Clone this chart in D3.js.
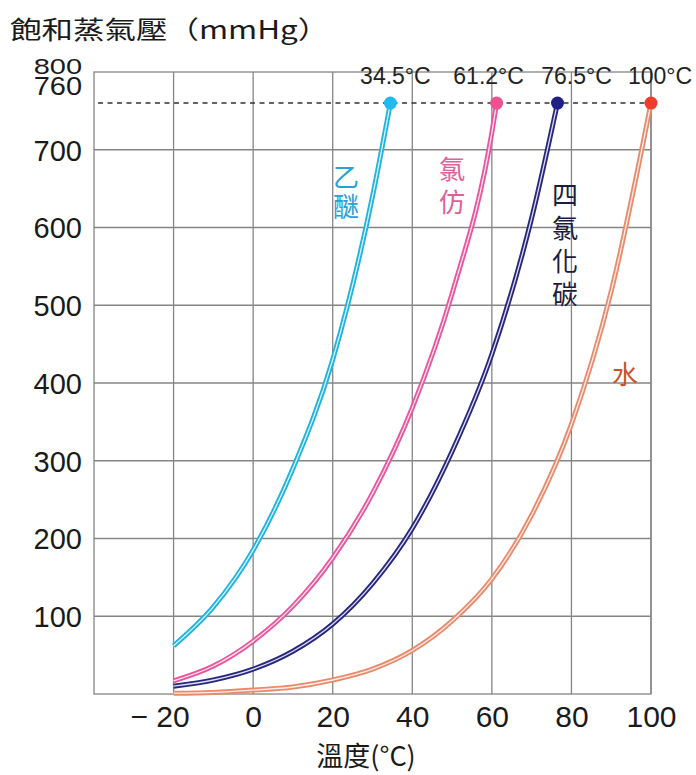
<!DOCTYPE html>
<html>
<head>
<meta charset="utf-8">
<script src="https://cdn.jsdelivr.net/npm/d3@7"></script>
<style>
  body { margin: 0; background: #fff; }
  svg { display: block; }
  text { font-family: "Liberation Sans", Arial, sans-serif; }
  .cjk { font-family: "Noto Sans CJK TC", "Noto Sans CJK SC", sans-serif; }
</style>
</head>
<body>
<svg width="696" height="775"></svg>
<script>
// values (temperature in °C, pressure in mmHg)
const etherT = [-20, -10, 0, 10, 20, 30, 34.5];
const etherP = [62, 112, 185, 290, 430, 640, 760];
const chloroT = [-20, -10, 0, 10, 20, 30, 40, 50, 60, 61.2];
const chloroP = [17, 36, 68, 113, 175, 258, 368, 515, 722, 760];
const cclT = [-20, -10, 0, 10, 20, 30, 40, 50, 60, 70, 76.5];
const cclP = [10, 18, 32, 55, 90, 142, 213, 312, 437, 612, 760];
const waterT = [-20, -10, 0, 10, 20, 30, 40, 50, 60, 70, 80, 90, 100];
const waterP = [1, 2, 5, 9, 18, 32, 56, 94, 148, 230, 347, 518, 760];

const names = ["乙醚", "氯仿", "四氯化碳", "水"];
const boiling = [34.5, 61.2, 76.5, 100];
const bpLabels = ["34.5°C", "61.2°C", "76.5°C", "100°C"];
const xTicks = [-20, 0, 20, 40, 60, 80, 100];
const yTicks = [100, 200, 300, 400, 500, 600, 700, 760, 800];

const lineColors = ["#1fb3e0", "#e9569c", "#27277f", "#ea8a6c"];
const dotColors = ["#22b9ef", "#f0508f", "#1f1f86", "#f03c2c"];
const textColors = ["#2a9fd8", "#e0609a", "#1c1c3c", "#c8532c"];

const svg = d3.select("svg");
const x = d3.scaleLinear().domain([-40, 100]).range([94, 651]);
const y = d3.scaleLinear().domain([0, 800]).range([694, 72]);

// grid
const grid = svg.append("g").attr("stroke", "#858585").attr("stroke-width", 1.3);
grid.selectAll(".v").data(xTicks).enter().append("line")
  .attr("x1", d => x(d)).attr("x2", d => x(d))
  .attr("y1", y(800)).attr("y2", y(0));
grid.selectAll(".h").data(d3.range(100, 800, 100)).enter().append("line")
  .attr("x1", x(-40)).attr("x2", x(100))
  .attr("y1", d => y(d)).attr("y2", d => y(d));
grid.append("rect")
  .attr("x", x(-40)).attr("y", y(800))
  .attr("width", x(100) - x(-40)).attr("height", y(0) - y(800))
  .attr("fill", "none");

// 760 mmHg dashed line
svg.append("line")
  .attr("x1", x(-40) + 4).attr("x2", x(100))
  .attr("y1", y(760)).attr("y2", y(760))
  .attr("stroke", "#333").attr("stroke-width", 1.5)
  .attr("stroke-dasharray", "5,4.5");

// curves
const series = [
  etherT.map((t, i) => [t, etherP[i]]),
  chloroT.map((t, i) => [t, chloroP[i]]),
  cclT.map((t, i) => [t, cclP[i]]),
  waterT.map((t, i) => [t, waterP[i]])
];
const line = d3.line().x(d => x(d[0])).y(d => y(d[1])).curve(d3.curveMonotoneX);

series.forEach((s, i) => {
  svg.append("path").attr("d", line(s))
    .attr("fill", "none").attr("stroke", lineColors[i]).attr("stroke-width", 5);
  svg.append("path").attr("d", line(s))
    .attr("fill", "none").attr("stroke", "#fff").attr("stroke-width", 1.3)
    .attr("stroke-opacity", 0.85);
});

// boiling point dots
svg.selectAll(".dot").data(boiling).enter().append("circle")
  .attr("cx", d => x(d)).attr("cy", y(760)).attr("r", 6.5)
  .attr("fill", (d, i) => dotColors[i]);

// boiling point labels
const labelShift = [5, -8, 19, 9];
svg.selectAll(".bp").data(bpLabels).enter().append("text")
  .attr("x", (d, i) => x(boiling[i]) + labelShift[i]).attr("y", 84)
  .attr("text-anchor", "middle").attr("font-size", 23).attr("fill", "#222")
  .text(d => d);

// vertical curve labels
const labelPos = [[346, 175, 29], [452, 167, 33], [565, 193, 33], [625, 372, 0]];
names.forEach((n, i) => {
  n.split("").forEach((c, j) => {
    svg.append("text").attr("class", "cjk")
      .attr("font-size", 26).attr("fill", textColors[i])
      .attr("text-anchor", "middle").attr("dominant-baseline", "central")
      .attr("x", labelPos[i][0])
      .attr("y", labelPos[i][1] + j * labelPos[i][2]).text(c);
  });
});

// axes
const yAxis = svg.append("g").attr("transform", `translate(${x(-40)},0)`)
  .call(d3.axisLeft(y).tickValues(yTicks).tickSize(0).tickPadding(12));
yAxis.select(".domain").remove();
yAxis.selectAll("text")
  .attr("font-family", "Liberation Sans, Arial, sans-serif")
  .attr("font-size", 29).attr("fill", "#1a1a1a")
  .attr("dy", "0.36em");
yAxis.selectAll(".tick").filter(d => d === 800)
  .attr("transform", "translate(0,66.5) scale(1,0.74)");
yAxis.selectAll(".tick").filter(d => d === 760)
  .attr("transform", "translate(0,86.5) scale(1,0.86)");

const xAxis = svg.append("g").attr("transform", `translate(0,${y(0)})`)
  .call(d3.axisBottom(x).tickValues(xTicks).tickSize(0).tickPadding(12)
    .tickFormat(d => d < 0 ? "− " + Math.abs(d) : d));
xAxis.select(".domain").remove();
xAxis.selectAll("text")
  .attr("font-family", "Liberation Sans, Arial, sans-serif")
  .attr("font-size", 30).attr("fill", "#1a1a1a");
xAxis.selectAll(".tick").filter(d => d < 0).select("text").attr("dx", -14);

// titles
svg.append("text").attr("class", "cjk")
  .attr("x", 10).attr("y", 39).attr("font-size", 25).attr("fill", "#1a1a1a")
  .attr("transform", "translate(10,0) scale(1.26,1) translate(-10,0)")
  .text("飽和蒸氣壓（mmHg）");

svg.append("text").attr("class", "cjk")
  .attr("x", 366).attr("y", 766).attr("text-anchor", "middle")
  .attr("font-size", 27).attr("fill", "#1a1a1a")
  .text("溫度(°C)");
</script>
</body>
</html>
